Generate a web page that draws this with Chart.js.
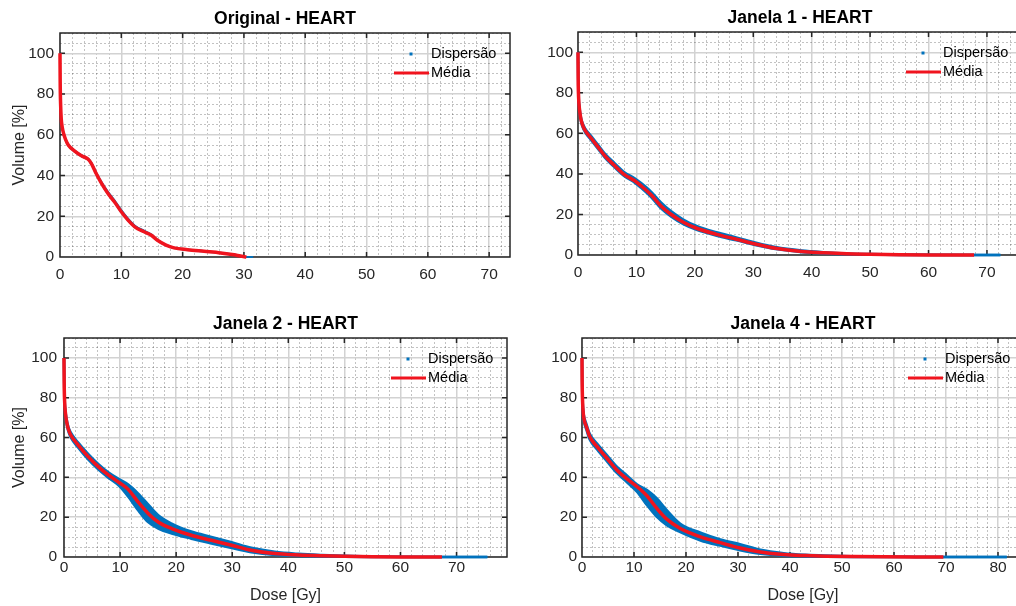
<!DOCTYPE html>
<html lang="pt">
<head>
<meta charset="utf-8">
<title>DVH - HEART</title>
<script src="https://cdn.jsdelivr.net/npm/chart.js@4/dist/chart.umd.min.js"></script>
<style>
  html, body { margin: 0; padding: 0; background: #fff; }
  body { width: 1016px; height: 606px; overflow: hidden; position: relative; }
  .painel { position: absolute; }
  #p1 { left: 0;     top: 0;     width: 512px; height: 287px; }
  #p2 { left: 518px; top: -1px;  width: 512px; height: 286px; }
  #p3 { left: 0;     top: 305px; width: 509px; height: 300px; }
  #p4 { left: 522px; top: 305px; width: 504px; height: 300px; }
</style>
</head>
<body>
<div class="painel" id="p1"><canvas id="g1"></canvas></div>
<div class="painel" id="p2"><canvas id="g2"></canvas></div>
<div class="painel" id="p3"><canvas id="g3"></canvas></div>
<div class="painel" id="p4"><canvas id="g4"></canvas></div>
<script>
// Curvas dose-volume do coração: média (vermelho) e dispersão (faixa azul)
const AZUL = '#0072BD';
const VERMELHO = '#F0141E';
const FONTE = '"Liberation Sans", Arial, Helvetica, sans-serif';

// Original
const dose1 = [0, 0.03, 0.1, 0.2, 0.35, 0.6, 0.9, 1.35, 2.4, 3.5, 4.6, 5.1, 5.9, 6.8, 7.8, 8.9, 10, 11.1, 12.2, 13.8, 14.9, 15.9, 17.3, 18.6, 20.8, 23.5, 26.2, 28.4, 29.4, 30.4, 31.5];
const media1 = [100, 86, 75, 68, 64, 60.5, 57.8, 55, 52, 49.7, 48, 46, 41, 36, 31.3, 27, 22.2, 18.1, 14.8, 12.3, 10.7, 8.2, 5.8, 4.5, 3.6, 2.8, 2.0, 1.1, 0.5, 0, null];
const dispMin1 = [100, 85.5, 74.5, 67.5, 63.5, 60, 57.3, 54.6, 51.6, 49.3, 47.6, 45.5, 40.6, 35.6, 30.9, 26.6, 21.8, 17.7, 14.5, 12, 10.4, 7.9, 5.6, 4.3, 3.4, 2.6, 1.8, 0.9, 0.3, 0, 0];
const dispMax1 = [100, 86.5, 75.5, 68.5, 64.5, 61, 58.3, 55.4, 52.4, 50.1, 48.4, 46.6, 41.7, 36.9, 32.3, 28, 23.2, 19, 15.6, 12.9, 11.2, 8.6, 6.1, 4.7, 3.8, 3.0, 2.2, 1.3, 0.7, 0.1, 0];

// Janela 1
const dose2 = [0, 0.03, 0.1, 0.25, 0.5, 0.8, 1.24, 2.36, 3.5, 4.6, 6.3, 8, 9.7, 10.8, 12.5, 14.2, 15.9, 18.1, 20.3, 23.7, 27.1, 30.5, 33.8, 38.3, 42, 46, 50, 55, 60, 67.8, 72.3];
const media2 = [100, 87, 78, 72, 67, 64, 61.3, 57.2, 53, 48.9, 44, 39.5, 36.6, 34.1, 29.7, 24.2, 20.1, 16, 13.2, 10.2, 7.8, 5.3, 3.3, 1.7, 1.1, 0.6, 0.35, 0.15, 0.05, 0, null];
const dispMin2 = [100, 86, 77, 71, 66, 63, 60.4, 56.3, 52.1, 48, 43.1, 38.7, 35.7, 33.1, 28.6, 23, 19, 15.1, 12.4, 9.5, 7.2, 4.8, 2.9, 1.4, 0.8, 0.4, 0.2, 0.05, 0, 0, 0];
const dispMax2 = [100, 88, 79, 73, 68, 65, 62.3, 58.3, 54.1, 50, 45.2, 40.7, 37.9, 35.5, 31.3, 26, 21.7, 17.4, 14.3, 11.2, 8.7, 6.0, 3.9, 2.2, 1.4, 0.8, 0.5, 0.25, 0.1, 0, 0];

// Janela 2
const dose3 = [0, 0.03, 0.1, 0.25, 0.5, 0.8, 1.2, 2.5, 4.3, 6.1, 7.9, 9.9, 11.4, 13.2, 15, 16.8, 19.2, 22.7, 26.3, 29.9, 33.4, 37.6, 41.8, 46, 50, 55, 60, 67.4, 75.5];
const media3 = [100, 88, 79, 72.5, 67.5, 64, 61.3, 56.3, 50.4, 45.4, 41.2, 37.3, 34.1, 27.7, 21.9, 17.6, 14.3, 10.9, 8.4, 5.9, 3.4, 1.7, 1.0, 0.6, 0.35, 0.15, 0.05, 0, null];
const dispMin3 = [100, 87, 78, 71.3, 66.3, 62.8, 60, 55, 49, 44, 39.8, 35.5, 30.5, 23.5, 17.5, 14.3, 11.8, 9.2, 6.8, 4.5, 2.4, 1, 0.5, 0.25, 0.1, 0.02, 0, 0, 0];
const dispMax3 = [100, 89, 80.2, 73.8, 68.8, 65.3, 62.6, 57.6, 51.8, 46.8, 42.6, 39, 36.5, 32, 26.5, 21, 16.8, 12.8, 10.1, 7.4, 4.6, 2.6, 1.6, 1, 0.6, 0.3, 0.1, 0, 0];

// Janela 4
const dose4 = [0, 0.03, 0.1, 0.25, 0.5, 0.83, 1.47, 2.9, 4.8, 6.7, 8.65, 10.6, 12.5, 14.4, 16.3, 18.9, 22.8, 26.6, 30.4, 34.3, 38.8, 43, 47, 52, 58, 64, 69.5, 81.7];
const media4 = [100, 88, 79, 72, 68, 65.5, 60.5, 55.4, 49.6, 43.7, 39.2, 35.3, 30.7, 24.4, 19, 14.3, 10.1, 7.2, 4.5, 2.5, 1.2, 0.7, 0.4, 0.2, 0.08, 0.02, 0, null];
const dispMin4 = [100, 86.5, 77.5, 70.5, 66.5, 64, 59, 54, 48, 42.2, 37.5, 32.7, 26, 20.1, 16, 12.5, 8.3, 5.7, 3.4, 1.6, 0.6, 0.3, 0.15, 0.05, 0, 0, 0, 0];
const dispMax4 = [100, 89.5, 80.5, 73.5, 69.5, 67, 62, 57, 51.2, 45.4, 41, 36.4, 33.6, 29.4, 23.5, 16.7, 12.2, 8.8, 6.4, 3.6, 1.9, 1.1, 0.7, 0.4, 0.15, 0.05, 0, 0];

const titulos = ['Original - HEART', 'Janela 1 - HEART', 'Janela 2 - HEART', 'Janela 4 - HEART'];
const legendas = ['Dispersão', 'Média'];
const doseMax = [73.4, 76, 79, 85];
const volumeMax = 110;

function pontos(xs, ys) {
  return xs.map((x, i) => ({ x: x, y: ys[i] }));
}

// Caixa fechada em volta dos eixos, com marcas para dentro
const caixa = {
  id: 'caixa',
  beforeDatasetsDraw(chart) {
    const { ctx, chartArea: a, scales: { x, y } } = chart;
    ctx.save();
    ctx.strokeStyle = '#262626';
    ctx.lineWidth = 1.5;
    ctx.strokeRect(a.left, a.top, a.right - a.left, a.bottom - a.top);
    ctx.beginPath();
    for (let v = 10; v < x.max; v += 10) {
      const px = x.getPixelForValue(v);
      ctx.moveTo(px, a.bottom); ctx.lineTo(px, a.bottom - 5);
      ctx.moveTo(px, a.top); ctx.lineTo(px, a.top + 5);
    }
    for (let v = 20; v < y.max; v += 20) {
      const py = y.getPixelForValue(v);
      ctx.moveTo(a.left, py); ctx.lineTo(a.left + 5, py);
      ctx.moveTo(a.right, py); ctx.lineTo(a.right - 5, py);
    }
    ctx.stroke();
    ctx.restore();
  }
};

// Legenda sem moldura no canto superior direito
const legenda = {
  id: 'legenda',
  afterDatasetsDraw(chart) {
    const { ctx, chartArea: a } = chart;
    const media = chart.data.datasets[0];
    const disp = chart.data.datasets[2];
    const xTexto = a.right - 79;
    const y1 = a.top + 21;
    const y2 = a.top + 40;
    ctx.save();
    ctx.fillStyle = disp.borderColor;
    ctx.fillRect(a.right - 100.5, y1 - 1.5, 3, 3);
    ctx.strokeStyle = media.borderColor;
    ctx.lineWidth = 3;
    ctx.beginPath();
    ctx.moveTo(a.right - 116, y2);
    ctx.lineTo(a.right - 81, y2);
    ctx.stroke();
    ctx.fillStyle = '#000';
    ctx.font = '14.5px ' + FONTE;
    ctx.textBaseline = 'middle';
    ctx.fillText(disp.label, xTexto, y1);
    ctx.fillText(media.label, xTexto, y2);
    ctx.restore();
  }
};

function criarGrafico(id, p) {
  const ctx = document.getElementById(id).getContext('2d');
  const estiloCurva = { pointRadius: 0, cubicInterpolationMode: 'monotone', clip: false, spanGaps: false };
  const corGrade = (major) => (major ? '#d2d2d2' : 'rgba(0,0,0,0.24)');
  return new Chart(ctx, {
    type: 'line',
    data: {
      datasets: [
        Object.assign({ label: legendas[1], data: pontos(p.dose, p.media), borderColor: VERMELHO, borderWidth: 3.5, fill: false }, estiloCurva),
        Object.assign({ label: legendas[0] + ' (mín.)', data: pontos(p.dose, p.dispMin), borderColor: AZUL, borderWidth: p.bordaAzul, fill: false }, estiloCurva),
        Object.assign({ label: legendas[0], data: pontos(p.dose, p.dispMax), borderColor: AZUL, backgroundColor: AZUL, borderWidth: p.bordaAzul, fill: 1 }, estiloCurva)
      ]
    },
    options: {
      responsive: true,
      maintainAspectRatio: false,
      animation: false,
      events: [],
      layout: { padding: { right: 2 } },
      scales: {
        x: {
          type: 'linear',
          min: 0,
          max: p.doseMax,
          afterFit: (s) => { s.height = p.alturaX; },
          ticks: {
            stepSize: 2, autoSkip: false, includeBounds: false, maxRotation: 0,
            padding: p.padX, color: '#262626', font: { size: 15.5 },
            callback: (v) => (v % 10 === 0 ? String(v) : '')
          },
          grid: {
            drawTicks: false,
            color: (c) => corGrade(c.tick && c.tick.value % 10 === 0),
            lineWidth: (c) => (c.tick && c.tick.value % 10 === 0 ? 1.5 : 1)
          },
          border: { display: false, dash: (c) => (c.tick && c.tick.value % 10 === 0 ? [] : [2, 2]) },
          title: { display: p.tituloX, text: 'Dose [Gy]', color: '#262626', font: { size: 16 }, padding: { top: 0, bottom: 0 } }
        },
        y: {
          min: 0,
          max: volumeMax,
          afterFit: (s) => { s.width = p.larguraY; },
          ticks: {
            stepSize: 5, autoSkip: false, includeBounds: false,
            padding: p.padY, color: '#262626', font: { size: 15.5 },
            callback: (v) => (v % 20 === 0 ? String(v) : '')
          },
          grid: {
            drawTicks: false,
            color: (c) => corGrade(c.tick && c.tick.value % 20 === 0),
            lineWidth: (c) => (c.tick && c.tick.value % 20 === 0 ? 1.5 : 1)
          },
          border: { display: false, dash: (c) => (c.tick && c.tick.value % 20 === 0 ? [] : [2, 2]) },
          title: { display: p.tituloY, text: 'Volume [%]', color: '#262626', font: { size: 16 }, padding: { top: 10, bottom: 0 } }
        }
      },
      plugins: {
        legend: { display: false },
        tooltip: { enabled: false },
        title: {
          display: true, text: p.titulo, fullSize: false, color: '#000',
          font: { size: 17.5, weight: 'bold' }, padding: { top: 8.5, bottom: 3.5 }
        }
      }
    },
    plugins: [caixa, legenda]
  });
}

Chart.defaults.font.family = FONTE;

criarGrafico('g1', { titulo: titulos[0], dose: dose1, media: media1, dispMin: dispMin1, dispMax: dispMax1, doseMax: doseMax[0],
  larguraY: 60, alturaX: 30, padX: 8, padY: 6, tituloX: false, tituloY: true, bordaAzul: 1.5 });
criarGrafico('g2', { titulo: titulos[1], dose: dose2, media: media2, dispMin: dispMin2, dispMax: dispMax2, doseMax: doseMax[1],
  larguraY: 60, alturaX: 30, padX: 8, padY: 5, tituloX: false, tituloY: false, bordaAzul: 2.5 });
criarGrafico('g3', { titulo: titulos[2], dose: dose3, media: media3, dispMin: dispMin3, dispMax: dispMax3, doseMax: doseMax[2],
  larguraY: 64, alturaX: 48, padX: 1, padY: 7, tituloX: true, tituloY: true, bordaAzul: 2.5 });
criarGrafico('g4', { titulo: titulos[3], dose: dose4, media: media4, dispMin: dispMin4, dispMax: dispMax4, doseMax: doseMax[3],
  larguraY: 60, alturaX: 48, padX: 1, padY: 5, tituloX: true, tituloY: false, bordaAzul: 2.5 });
</script>
</body>
</html>
